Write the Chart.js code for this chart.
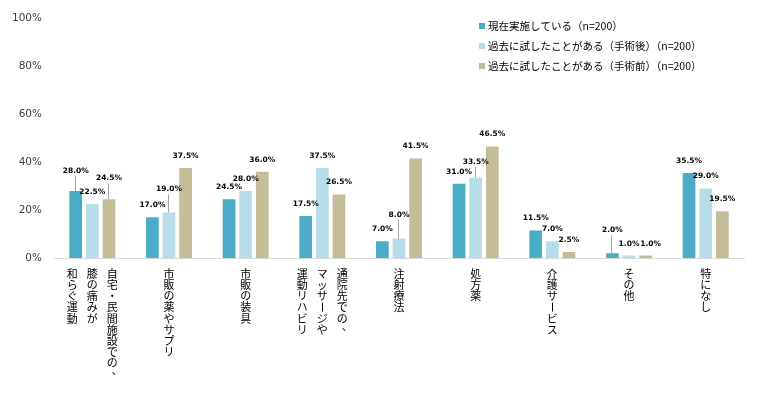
<!DOCTYPE html>
<html>
<head>
<meta charset="utf-8">
<script src="https://cdn.jsdelivr.net/npm/chart.js@4"></script>
<style>
  body { margin: 0; background: #fff; }
</style>
</head>
<body>
<canvas id="grafico" width="760" height="398"></canvas>
<script>
  // categorias: cada item = colunas do texto vertical (primeira coluna fica à direita)
  const categorias = [
    ["自宅・民間施設での、", "膝の痛みが", "和らぐ運動"],
    ["市販の薬やサプリ"],
    ["市販の装具"],
    ["通院先での、", "マッサージや", "運動リハビリ"],
    ["注射療法"],
    ["処方薬"],
    ["介護サービス"],
    ["その他"],
    ["特になし"]
  ];

  const nomesSeries = [
    "現在実施している（n=200）",
    "過去に試したことがある（手術後）（n=200）",
    "過去に試したことがある（手術前）（n=200）"
  ];

  const atual = [28.0, 17.0, 24.5, 17.5, 7.0, 31.0, 11.5, 2.0, 35.5];
  const posCirurgia = [22.5, 19.0, 28.0, 37.5, 8.0, 33.5, 7.0, 1.0, 29.0];
  const preCirurgia = [24.5, 37.5, 36.0, 26.5, 41.5, 46.5, 2.5, 1.0, 19.5];

  const ticksY = [0, 20, 40, 60, 80, 100];

  const cores = ["#4bacc6", "#b7dde8", "#c4bd97"];
  // deslocamento extra dos rótulos com linha guia (px)
  const elevacao = [
    [8, 0, 0, 0, 0, 0, 0, 11, 0],
    [0, 11, 0, 0, 12, 4, 0, 0, 0],
    [9, 0, 0, 0, 0, 0, 0, 0, 0]
  ];
  // deslocamento horizontal de alguns rótulos (px)
  const desvioX = [
    [0, 0, 0, 0, 0, 0, 0, 0, 0],
    [0, 0, 0, 0, 0, 0, 0, 0, 0],
    [0, 0, 0, 0, 0, 0, 0, 5, 0]
  ];

  const rotulosBarras = {
    id: "rotulosBarras",
    afterDatasetsDraw(chart) {
      const ctx = chart.ctx;
      ctx.save();
      ctx.font = 'bold 7.5px "DejaVu Sans"';
      ctx.textAlign = "center";
      ctx.textBaseline = "middle";
      chart.data.datasets.forEach((ds, i) => {
        chart.getDatasetMeta(i).data.forEach((bar, j) => {
          const extra = elevacao[i][j];
          const y = bar.y - 12 - extra;
          if (extra > 0) {
            ctx.strokeStyle = "#a6a6a6";
            ctx.lineWidth = 1;
            ctx.beginPath();
            ctx.moveTo(Math.round(bar.x) - 0.5, bar.y);
            ctx.lineTo(Math.round(bar.x) - 0.5, y + 5);
            ctx.stroke();
          }
          ctx.fillStyle = "#000";
          ctx.fillText(ds.data[j].toFixed(1) + "%", bar.x + desvioX[i][j], y);
        });
      });
      ctx.restore();
    }
  };

  const rotulosVerticais = {
    id: "rotulosVerticais",
    afterDraw(chart) {
      const ctx = chart.ctx;
      const escalaX = chart.scales.x;
      const topo = chart.chartArea.bottom + 16;
      ctx.save();
      ctx.font = '11px "Noto Sans CJK JP"';
      ctx.fillStyle = "#000";
      ctx.textAlign = "center";
      ctx.textBaseline = "middle";
      categorias.forEach((colunas, i) => {
        const cx = escalaX.getPixelForValue(i);
        const n = colunas.length;
        colunas.forEach((texto, c) => {
          const x = cx + ((n - 1) / 2 - c) * 20;
          [...texto].forEach((ch, k) => {
            const y = topo + k * 11.1;
            if (ch === "ー") {
              ctx.save();
              ctx.translate(x, y);
              ctx.rotate(Math.PI / 2);
              ctx.fillText(ch, 0, 0);
              ctx.restore();
            } else if (ch === "、") {
              ctx.fillText(ch, x + 5, y - 4);
            } else {
              ctx.fillText(ch, x, y);
            }
          });
        });
      });
      ctx.restore();
    }
  };

  const legenda = {
    id: "legenda",
    afterDraw(chart) {
      const ctx = chart.ctx;
      ctx.save();
      ctx.font = '10.5px "Noto Sans CJK JP"';
      ctx.textBaseline = "middle";
      chart.data.datasets.forEach((ds, i) => {
        const y = 26 + i * 20;
        ctx.fillStyle = ds.backgroundColor;
        ctx.fillRect(479, y - 3, 6, 6);
        ctx.fillStyle = "#000";
        ctx.fillText(ds.label, 488, y);
      });
      ctx.restore();
    }
  };

  const dadosSeries = [atual, posCirurgia, preCirurgia];

  new Chart(document.getElementById("grafico"), {
    type: "bar",
    data: {
      labels: categorias.map(c => c.join("")),
      datasets: dadosSeries.map((valores, i) => ({
        label: nomesSeries[i],
        data: valores,
        backgroundColor: cores[i],
        barPercentage: 0.765,
        categoryPercentage: 0.65
      }))
    },
    options: {
      responsive: false,
      animation: false,
      devicePixelRatio: 1,
      layout: { padding: { top: 18, left: 0, right: 16, bottom: 132 } },
      plugins: {
        legend: { display: false },
        tooltip: { enabled: false }
      },
      scales: {
        x: {
          grid: { display: false },
          border: { display: true, color: "#d9d9d9", width: 1 },
          ticks: { display: false }
        },
        y: {
          min: 0,
          max: 100,
          afterFit(scale) { scale.width = 54; },
          afterBuildTicks(scale) { scale.ticks = ticksY.map(v => ({ value: v })); },
          grid: { display: false, drawTicks: false },
          border: { display: false },
          ticks: {
            padding: 12,
            color: "#404040",
            font: { family: "DejaVu Sans", size: 10.5 },
            callback: v => v + "%"
          }
        }
      }
    },
    plugins: [rotulosBarras, rotulosVerticais, legenda]
  });
</script>
</body>
</html>
